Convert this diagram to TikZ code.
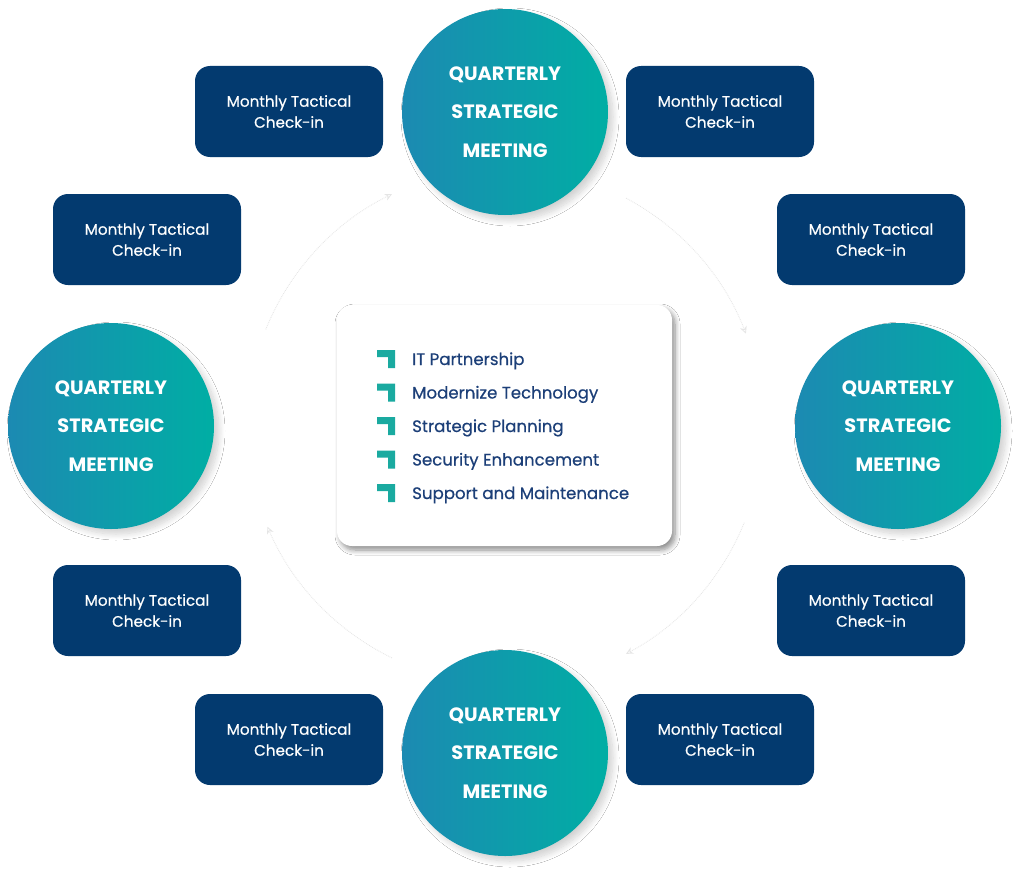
\documentclass[tikz,border=0pt]{standalone}
\usepackage{fontspec}
\setmainfont{Poppins}
\newfontfamily\popm{Poppins}[FakeBold=0.5]
\usetikzlibrary{shadows.blur,arrows.meta}
\definecolor{navy}{RGB}{3,58,111}
\definecolor{cl}{RGB}{28,138,178}
\definecolor{cr}{RGB}{0,174,164}
\definecolor{ink}{RGB}{28,63,120}
\definecolor{tealb}{RGB}{26,170,160}
\begin{document}
\begin{tikzpicture}[x=1pt,y=1pt,
  tac/.style={fill=navy, rounded corners=15pt, minimum width=188pt, minimum height=91pt,
    text=white, align=center, font=\popm\fontsize{15.2}{21}\selectfont, inner sep=0pt},
  qsm/.style={circle, minimum size=206pt, inner sep=0pt, left color=cl, right color=cr,
    text=white, align=center, font=\bfseries\fontsize{19.3}{38.5}\selectfont,
    blur shadow={shadow xshift=5pt, shadow yshift=-5pt, shadow blur steps=10, shadow opacity=18, shadow blur radius=6pt}},
  item/.style={anchor=base west, text=ink, font=\popm\fontsize{16.6}{18}\selectfont, inner sep=0pt},
  ring/.style={draw=gray!20, densely dotted, line width=0.8pt, -{Stealth[length=7pt,width=7pt,open]}},
  pics/bmark/.style={code={\fill[tealb] (0,0) -- (18,0) -- (18,-18) -- (11,-18) -- (11,-7) -- (0,-7) -- cycle;}}
]
\useasboundingbox (0,0) rectangle (1024,-880);
\fill[white] (0,0) rectangle (1024,-880);

% faint clockwise arcs
\coordinate (C) at (505,-426);
\draw[ring] (C) ++(158:258) arc[start angle=158, end angle=116, radius=258];
\draw[ring] (C) ++(62:258) arc[start angle=62, end angle=21, radius=258];
\draw[ring] (C) ++(-22:258) arc[start angle=-22, end angle=-62, radius=258];
\draw[ring] (C) ++(-116:258) arc[start angle=-116, end angle=-157, radius=258];

% centre box
\node[fill=white, rounded corners=15pt, minimum width=335pt, minimum height=241pt,
  blur shadow={shadow xshift=3pt, shadow yshift=-4pt, shadow blur steps=8, shadow opacity=45, shadow blur radius=5pt}]
  (box) at (504.5,-425.5) {};
\node[item] (i1) at (412,-365) {IT Partnership};
\node[item] (i2) at (412,-398.5) {Modernize Technology};
\node[item] (i3) at (412,-432) {Strategic Planning};
\node[item] (i4) at (412,-465.5) {Security Enhancement};
\node[item] (i5) at (412,-499) {Support and Maintenance};
\pic at (377,-350) {bmark};
\pic at (377,-383.5) {bmark};
\pic at (377,-417) {bmark};
\pic at (377,-450.5) {bmark};
\pic at (377,-484) {bmark};

% quarterly circles
\node[qsm] (qt) at (505,-112) {QUARTERLY\\STRATEGIC\\MEETING};
\node[qsm] (ql) at (111,-426) {QUARTERLY\\STRATEGIC\\MEETING};
\node[qsm] (qr) at (898,-426) {QUARTERLY\\STRATEGIC\\MEETING};
\node[qsm] (qb) at (505,-753) {QUARTERLY\\STRATEGIC\\MEETING};

% monthly boxes
\node[tac] (m1) at (289,-111.5) {Monthly Tactical\\Check-in};
\node[tac] (m2) at (720,-111.5) {Monthly Tactical\\Check-in};
\node[tac] (m3) at (871,-239.5) {Monthly Tactical\\Check-in};
\node[tac] (m4) at (871,-610.5) {Monthly Tactical\\Check-in};
\node[tac] (m5) at (720,-739.5) {Monthly Tactical\\Check-in};
\node[tac] (m6) at (289,-739.5) {Monthly Tactical\\Check-in};
\node[tac] (m7) at (147,-610.5) {Monthly Tactical\\Check-in};
\node[tac] (m8) at (147,-239.5) {Monthly Tactical\\Check-in};
\end{tikzpicture}
\end{document}
